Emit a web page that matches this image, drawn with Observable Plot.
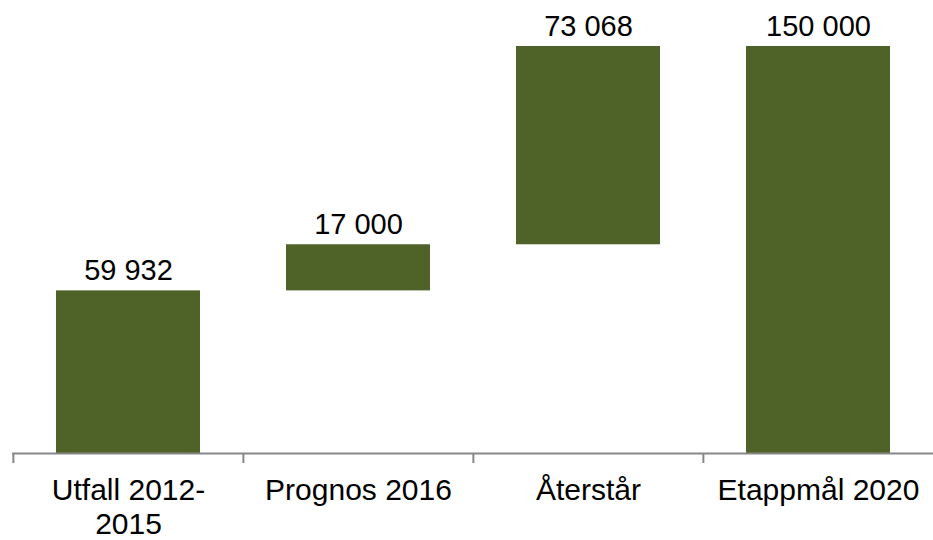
<!DOCTYPE html>
<html>
<head>
<meta charset="utf-8">
<script src="https://cdn.jsdelivr.net/npm/d3@7"></script>
<script src="https://cdn.jsdelivr.net/npm/@observablehq/plot@0.6"></script>
<style>
  html, body { margin: 0; padding: 0; background: #fff; }
  #chart svg { display: block; }
</style>
</head>
<body>
<div id="chart"></div>
<script>
const categories = ["Utfall 2012-2015", "Prognos 2016", "Återstår", "Etappmål 2020"];
const tickLabels = ["Utfall 2012-\n2015", "Prognos 2016", "Återstår", "Etappmål 2020"];
const starts = [0, 59932, 76932, 0];
const values = [59932, 17000, 73068, 150000];

const data = categories.map((c, i) => ({
  cat: c,
  y1: starts[i],
  y2: starts[i] + values[i],
  value: values[i]
}));

const W = 933, H = 540;
const marginLeft = 12, marginRight = 0, marginTop = 46, marginBottom = 87;
const step = (W - marginLeft - marginRight) / categories.length;
const fmt = v => d3.format(",")(v).replace(/,/g, " ");
const labelMap = new Map(categories.map((c, i) => [c, tickLabels[i]]));
const axisColor = "#878787";

const chart = Plot.plot({
  width: W,
  height: H,
  marginLeft, marginRight, marginTop, marginBottom,
  style: { fontFamily: "Arial, 'Liberation Sans', sans-serif", color: "#000", background: "#fff" },
  x: { domain: categories, paddingInner: 0.375, paddingOuter: 0.1875, axis: null, label: null },
  y: { domain: [0, 150000], axis: null },
  marks: [
    Plot.barY(data, { x: "cat", y1: "y1", y2: "y2", fill: "#4F6228" }),
    Plot.ruleY([0], { stroke: axisColor, strokeWidth: 2 }),
    Plot.ruleX(categories, { x: d => d, y1: 0, y2: 0, insetBottom: -10, dx: -step / 2, stroke: axisColor, strokeWidth: 2 }),
    Plot.text(data, {
      x: "cat", y: "y2", text: d => fmt(d.value),
      dy: -11, lineAnchor: "bottom", fontSize: 29, fill: "#000"
    }),
    Plot.axisX({
      tickSize: 0, tickPadding: 23, fontSize: 30, lineHeight: 1.12, label: null,
      tickFormat: d => labelMap.get(d), color: "#000", stroke: "none"
    })
  ]
});
document.getElementById("chart").appendChild(chart);
</script>
</body>
</html>
